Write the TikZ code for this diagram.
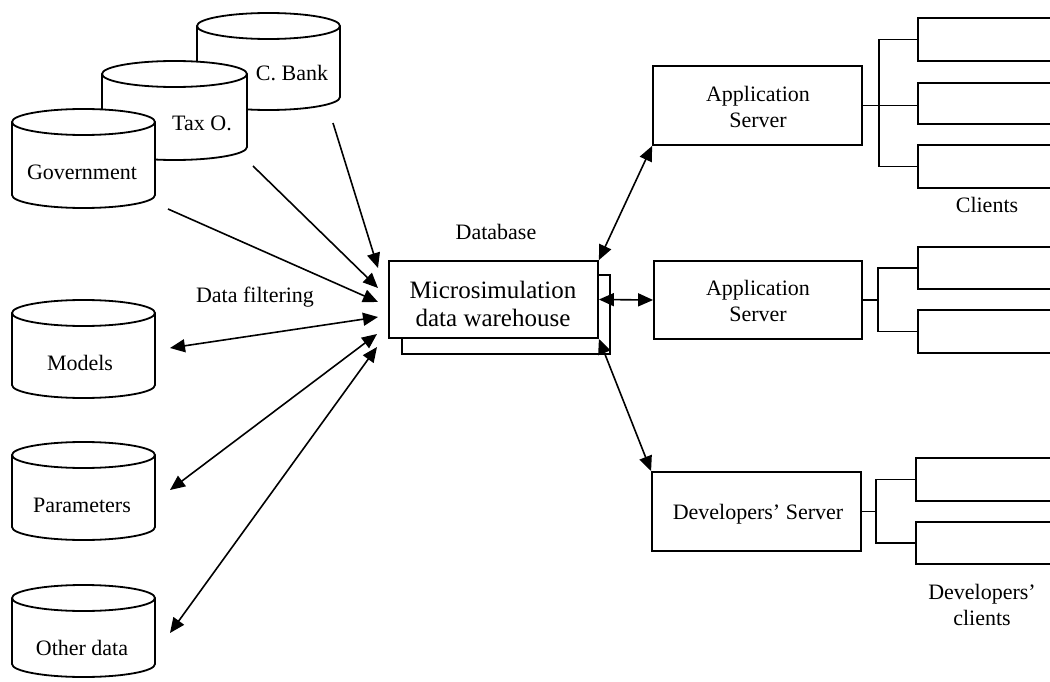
\documentclass[tikz,border=0pt]{standalone}
\usepackage{fontspec}
\setmainfont{Liberation Serif}
\usetikzlibrary{arrows.meta,calc}
\tikzset{
  ln/.style={line width=1.8pt},
  lbl/.style={font=\fontsize{22}{26}\selectfont, inner sep=0pt, align=center},
  big/.style={font=\fontsize{25}{28}\selectfont, inner sep=0pt, align=center},
  box/.style={draw, line width=1.8pt, fill=white, inner sep=0pt},
  area/.style={inner sep=0pt, draw=none},
  ar/.style={line width=1.6pt, -{Triangle[length=15pt,width=13pt]}},
  dar/.style={line width=1.6pt, {Triangle[length=15pt,width=13pt]}-{Triangle[length=15pt,width=13pt]}},
}
\newcommand{\dbcyl}[4]{% L, T, R, B
  \path[draw, fill=white, line width=1.8pt] (#1,#2+13) -- (#1,#4-13)
     arc[start angle=180,end angle=0,x radius={(#3-#1)/2},y radius=13]
     -- (#3,#2+13)
     arc[start angle=0,end angle=-180,x radius={(#3-#1)/2},y radius=13] -- cycle;
  \draw[line width=1.8pt] (#3,#2+13) arc[start angle=0,end angle=180,x radius={(#3-#1)/2},y radius=13];
}
\begin{document}
\begin{tikzpicture}[x=1pt,y=-1pt]
\useasboundingbox (0,0) rectangle (1050,682);

% ---- source cylinders (back to front)
\dbcyl{197}{13}{340}{110}
\node[area, minimum width=143pt, minimum height=97pt] (cbank) at (268.5,61.5) {};
\node[lbl] (cbankt) at (292,73) {C. Bank};
\dbcyl{102}{61}{247}{160}
\node[area, minimum width=145pt, minimum height=99pt] (tax) at (174.5,110.5) {};
\node[lbl] (taxt) at (202,123) {Tax O.};
\dbcyl{12}{109}{155}{208}
\node[area, minimum width=143pt, minimum height=99pt] (gov) at (83.5,158.5) {};
\node[lbl] (govt) at (82,172) {Government};

% ---- other cylinders
\dbcyl{12}{300}{155}{398}
\node[area, minimum width=143pt, minimum height=98pt] (models) at (83.5,349) {};
\node[lbl] (modelst) at (80,363) {Models};
\dbcyl{12}{442}{155}{540}
\node[area, minimum width=143pt, minimum height=98pt] (params) at (83.5,491) {};
\node[lbl] (paramst) at (82,505) {Parameters};
\dbcyl{12}{585}{155}{677}
\node[area, minimum width=143pt, minimum height=92pt] (other) at (83.5,631) {};
\node[lbl] (othert) at (82,648) {Other data};

% ---- database
\node[box, minimum width=208pt, minimum height=79pt] (dbb) at (506,314.5) {};
\node[box, minimum width=209pt, minimum height=77pt] (dbf) at (493.5,299.5) {};
\node[big] (dbt) at (493,304) {Microsimulation\\data warehouse};
\node[lbl] (dblabel) at (496,232) {Database};
\node[lbl] (filt) at (255,297) {Data filtering};

% ---- servers
\node[box, minimum width=209pt, minimum height=79pt] (app1) at (757.5,105.5) {};
\node[lbl] (app1t) at (758,107) {Application\\Server};
\node[box, minimum width=208pt, minimum height=78pt] (app2) at (758,300) {};
\node[lbl] (app2t) at (758,301) {Application\\Server};
\node[box, minimum width=209pt, minimum height=79pt] (dev) at (756.5,511.5) {};
\node[lbl] (devt) at (758,514) {Developers’ Server};

% ---- clients
\node[box, anchor=west, minimum width=200pt, minimum height=43pt] (c11) at (917,39.5) {};
\node[box, anchor=west, minimum width=200pt, minimum height=41pt] (c12) at (917,103.5) {};
\node[box, anchor=west, minimum width=200pt, minimum height=43pt] (c13) at (917,166.5) {};
\node[box, anchor=west, minimum width=200pt, minimum height=42pt] (c21) at (917,268) {};
\node[box, anchor=west, minimum width=200pt, minimum height=43pt] (c22) at (917,331.5) {};
\node[box, anchor=west, minimum width=200pt, minimum height=43pt] (d1) at (915,479.5) {};
\node[box, anchor=west, minimum width=200pt, minimum height=42pt] (d2) at (915,543) {};
\node[lbl] (clients) at (987,205) {Clients};
\node[lbl] (devclients) at (982,605) {Developers’\\clients};

\draw[ln] (c11.west) -- ++(-38,0) |- (c13.west);
\draw[ln] (app1.east) -- (app1.east -| c12.west);
\draw[ln] (c21.west) -- ++(-39,0) |- (c22.west);
\draw[ln] (app2.east) -- ++(16,0);
\draw[ln] (d1.west) -- ++(-39,0) |- (d2.west);
\draw[ln] (dev.east) -- ++(15,0);

% ---- connector end points
\coordinate (cbo) at (333,123);
\coordinate (cbi) at (378,268);
\coordinate (txo) at (253,166);
\coordinate (txi) at (378,288);
\coordinate (gvo) at (168,209);
\coordinate (gvi) at (378,302);
\coordinate (mdo) at (170,348);
\coordinate (mdi) at (378,317);
\coordinate (pmo) at (170,490);
\coordinate (pmi) at (377,334);
\coordinate (oto) at (170,633);
\coordinate (oti) at (377,347);

\draw[ar] (cbo) -- (cbi);
\draw[ar] (txo) -- (txi);
\draw[ar] (gvo) -- (gvi);
\draw[dar] (mdo) -- (mdi);
\draw[dar] (pmo) -- (pmi);
\draw[dar] (oto) -- (oti);

\draw[dar] (dbf.north east) -- (app1.south west);
\draw[dar] (dbf.east) -- (app2.west);
\draw[dar] (dbf.south east) -- (dev.north west);
\end{tikzpicture}
\end{document}
